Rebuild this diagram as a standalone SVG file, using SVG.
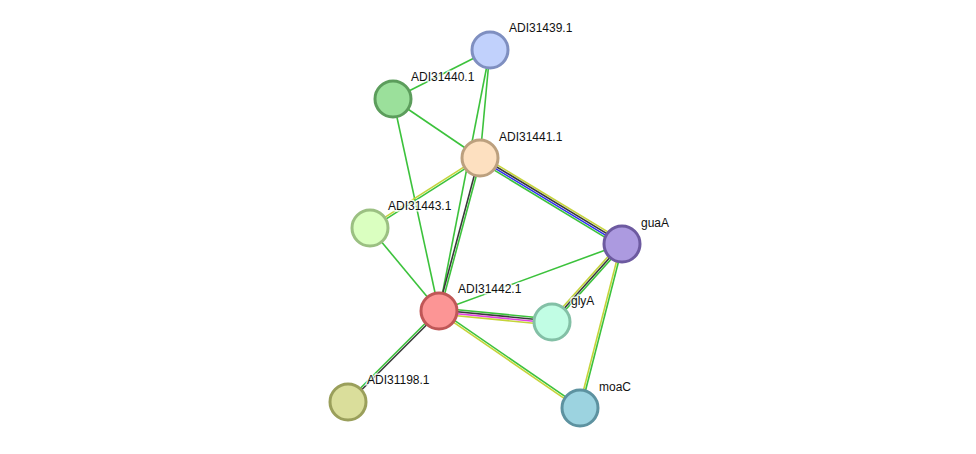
<svg xmlns="http://www.w3.org/2000/svg" width="976" height="454" viewBox="0 0 976 454">
<style>
line{stroke-width:1.6;fill:none}
.g{stroke:#3cc23c}.y{stroke:#c5d43a}.k{stroke:#3a3a3a}.b{stroke:#3030f0}.m{stroke:#e040e0}
circle{stroke-width:3}
text{font-family:"Liberation Sans",Arial,sans-serif;font-size:12px;fill:#111;stroke:#fff;stroke-width:3;paint-order:stroke;stroke-opacity:0.8}
</style>
<rect width="976" height="454" fill="#fff"/>
<g id="edges">
<line class="g" x1="490" y1="50" x2="393" y2="99"/>
<line class="g" x1="490" y1="50" x2="480" y2="158"/>
<line class="g" x1="490" y1="50" x2="439" y2="311"/>
<line class="g" x1="393" y1="99" x2="480" y2="158"/>
<line class="g" x1="393" y1="99" x2="439" y2="311"/>
<line class="g" x1="370" y1="228" x2="439" y2="311"/>
<line class="g" x1="439" y1="311" x2="622" y2="244"/>
<line class="y" x1="481.55" y1="155.43" x2="623.55" y2="241.43"/>
<line class="k" x1="480.52" y1="157.14" x2="622.52" y2="243.14"/>
<line class="b" x1="479.48" y1="158.86" x2="621.48" y2="244.86"/>
<line class="g" x1="478.45" y1="160.57" x2="620.45" y2="246.57"/>
<line class="k" x1="479.03" y1="157.74" x2="438.03" y2="310.74"/>
<line class="g" x1="480.97" y1="158.26" x2="439.97" y2="311.26"/>
<line class="y" x1="479.46" y1="157.16" x2="369.46" y2="227.16"/>
<line class="g" x1="480.54" y1="158.84" x2="370.54" y2="228.84"/>
<line class="g" x1="439.29" y1="308.02" x2="552.29" y2="319.02"/>
<line class="k" x1="439.1" y1="310" x2="552.1" y2="321"/>
<line class="m" x1="438.9" y1="312" x2="551.9" y2="323"/>
<line class="y" x1="438.71" y1="313.98" x2="551.71" y2="324.98"/>
<line class="y" x1="620.51" y1="242.66" x2="550.51" y2="320.66"/>
<line class="k" x1="622" y1="244" x2="552" y2="322"/>
<line class="g" x1="623.49" y1="245.34" x2="553.49" y2="323.34"/>
<line class="y" x1="621.03" y1="243.75" x2="579.03" y2="407.75"/>
<line class="g" x1="622.97" y1="244.25" x2="580.97" y2="408.25"/>
<line class="g" x1="439.57" y1="310.18" x2="580.57" y2="407.18"/>
<line class="y" x1="438.43" y1="311.82" x2="579.43" y2="408.82"/>
<line class="g" x1="438.29" y1="310.29" x2="347.29" y2="401.29"/>
<line class="k" x1="439.71" y1="311.71" x2="348.71" y2="402.71"/>
</g>
<g id="n1"><circle cx="490" cy="50" r="18" fill="#c1d1fc" stroke="#7f8fc0"/><text x="509" y="32">ADI31439.1</text></g>
<g id="n2"><circle cx="393" cy="99" r="18" fill="#9be09b" stroke="#5c9d5c"/><text x="411" y="81">ADI31440.1</text></g>
<g id="n3"><circle cx="480" cy="158" r="18" fill="#fde0c0" stroke="#bca07e"/><text x="499" y="141">ADI31441.1</text></g>
<g id="n4"><circle cx="370" cy="228" r="18" fill="#daffc0" stroke="#9bc082"/><text x="388" y="210">ADI31443.1</text></g>
<g id="n5"><circle cx="439" cy="311" r="18" fill="#fc9595" stroke="#c05757"/><text x="458" y="293">ADI31442.1</text></g>
<g id="n6"><circle cx="622" cy="244" r="18" fill="#ac9ae0" stroke="#6d5aa0"/><text x="641" y="227">guaA</text></g>
<g id="n7"><circle cx="552" cy="322" r="18" fill="#c1fde4" stroke="#83c0a6"/><text x="571" y="305">glyA</text></g>
<g id="n8"><circle cx="580" cy="408" r="18" fill="#9cd3e0" stroke="#5d92a0"/><text x="599" y="391">moaC</text></g>
<g id="n9"><circle cx="348" cy="402" r="18" fill="#dade9b" stroke="#9a9f5b"/><text x="367" y="384">ADI31198.1</text></g>
</svg>
